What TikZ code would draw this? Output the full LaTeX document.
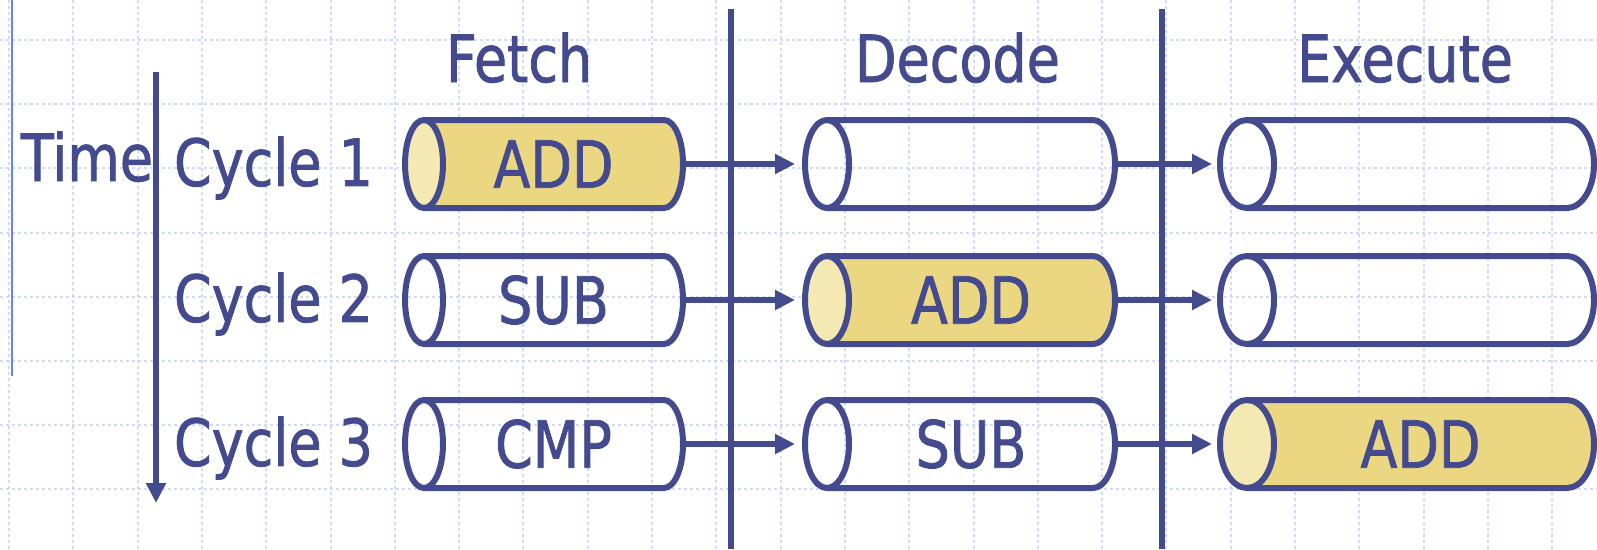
\documentclass[tikz,border=0pt]{standalone}
\usepackage{fontspec}
\setmainfont[FakeStretch=0.83, FakeBold=1.2]{DejaVu Sans}
\usepackage{tikz}
\usetikzlibrary{positioning, arrows.meta, backgrounds}
\usepackage{xcolor}

\definecolor{ink}{RGB}{67,74,142}
\definecolor{gold}{RGB}{235,215,130}
\definecolor{cream}{RGB}{244,232,179}
\definecolor{gridblue}{RGB}{208,219,252}
\definecolor{marginblue}{RGB}{105,130,245}

% outline of one register tube: #1 = node, #2 = x radius of the end caps
\newcommand{\tube}[2]{%
  \draw[tubeline] (#1.north west) -- ([xshift=-#2]#1.north east)
    arc[start angle=90, end angle=-90, x radius=#2, y radius=44pt]
    -- (#1.south west);
  \draw[tubeline] (#1.west) ellipse[x radius=#2, y radius=44pt];
}
% filled tube (the instruction in flight)
\newcommand{\filltube}[2]{%
  \fill[gold] (#1.north west) -- ([xshift=-#2]#1.north east)
    arc[start angle=90, end angle=-90, x radius=#2, y radius=44pt]
    -- (#1.south west) -- cycle;
  \fill[cream] (#1.west) ellipse[x radius=#2, y radius=44pt];
}

\begin{document}
\begin{tikzpicture}[x=1pt, y=-1pt,
    font={\fontsize{65pt}{78pt}\selectfont},
    stage/.style={inner sep=0pt, outer sep=0pt, minimum height=88pt, text=ink},
    lbl/.style={inner sep=0pt, outer sep=0pt, text=ink},
    tubeline/.style={draw=ink, line width=6pt},
    flow/.style={draw=ink, line width=6pt, -{Triangle[length=20pt, width=19pt]}},
    divider/.style={draw=ink, line width=6pt},
    gridline/.style={draw=gridblue, line width=2pt, dash pattern=on 3pt off 3pt}]
    \useasboundingbox (0,0) rectangle (1597,549);

    % Add the stages
        \node[stage,
              minimum width=259pt
              ] (f1) at (553.5,164) {ADD};
		\node[stage,
			minimum width=259pt,
			below=48pt of f1
        	] (f2) {SUB};
		\node[stage,
			minimum width=259pt,
			below=56pt of f2
        	] (f3) {CMP};
         \node[stage,
         	 minimum width=288pt,
         	 right=144pt of f1
              ] (d1) {};
		\node[stage,
			minimum width=288pt,
			right=144pt of f2
        	] (d2) {ADD};
		\node[stage,
			minimum width=288pt,
			right=144pt of f3
        	] (d3) {SUB};
         \node[stage,
         	minimum width=347pt,
         	right=132pt of d1
              ] (e1) {};
		\node[stage,
			minimum width=347pt,
			right=132pt of d2
        	] (e2) {};
		\node[stage,
			minimum width=347pt,
			right=132pt of d3
        	] (e3) {ADD};

    % column heads
		\node[lbl, anchor=base] (hfetch) at (519,82) {Fetch};
		\node[lbl, anchor=base] (hdecode) at (957.5,82) {Decode};
		\node[lbl, anchor=base] (hexec) at (1405,82) {Execute};

    % time axis and cycles
		\node[lbl, anchor=base east] (time) at (153,181) {Time};
		\node[lbl, left=51pt of f1, yshift=-4pt] (c1) {Cycle 1};
		\node[lbl, left=51pt of f2, yshift=-4pt] (c2) {Cycle 2};
		\node[lbl, left=51pt of f3, yshift=-4pt] (c3) {Cycle 3};
		\coordinate (t0) at (156,72);
		\coordinate (t1) at (156,503);

    \begin{scope}[on background layer]
        \fill[white] (0,0) rectangle (1597,549);
        \foreach \k in {0,...,24}
            \draw[gridline] ({9+64.3*\k},0) -- ({9+64.3*\k},549);
        \foreach \k in {0,...,7}
            \draw[gridline] (0,{40+64.2*\k}) -- (1597,{40+64.2*\k});
        \draw[marginblue, line width=2.5pt] (12,0) -- (12,376);
        \filltube{f1}{19pt}
        \filltube{d2}{22pt}
        \filltube{e3}{27pt}
    \end{scope}

    % stage boundaries
    \draw[divider] (731,9) -- (731,549);
    \draw[divider] (1162,9) -- (1162,549);

    \tube{f1}{19pt} \tube{f2}{19pt} \tube{f3}{19pt}
    \tube{d1}{22pt} \tube{d2}{22pt} \tube{d3}{22pt}
    \tube{e1}{27pt} \tube{e2}{27pt} \tube{e3}{27pt}

    \draw (t0) edge[flow] (t1)
        (f1.east) edge[flow, shorten >=32pt] (d1.west)
        (f2.east) edge[flow, shorten >=32pt] (d2.west)
        (f3.east) edge[flow, shorten >=32pt] (d3.west)
        (d1.east) edge[flow, shorten >=35pt] (e1.west)
        (d2.east) edge[flow, shorten >=35pt] (e2.west)
        (d3.east) edge[flow, shorten >=35pt] (e3.west);
\end{tikzpicture}
\end{document}
